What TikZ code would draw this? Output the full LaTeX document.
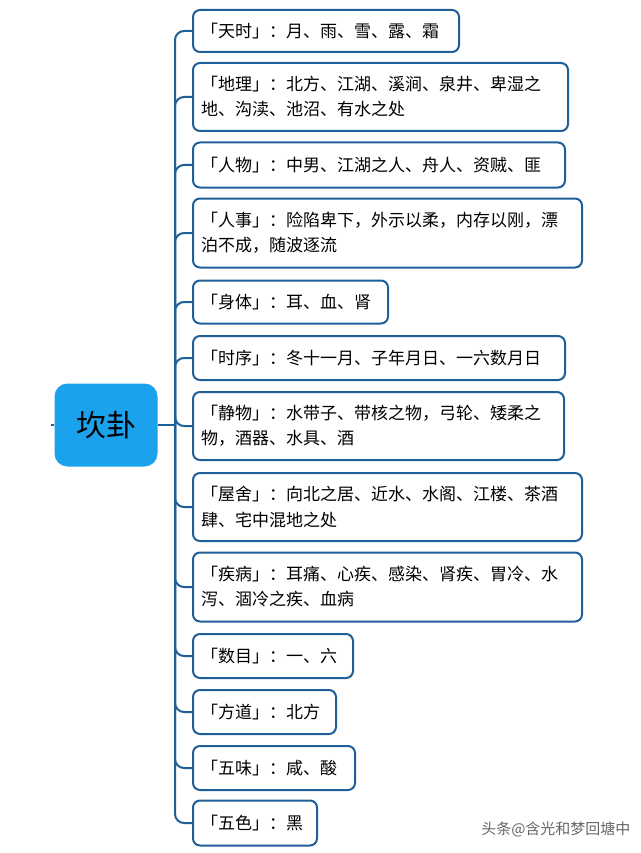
\documentclass[tikz,border=0pt]{standalone}
\usepackage{fontspec}
\newfontfamily\cjk{Noto Sans CJK SC}
\definecolor{edge}{HTML}{1F5F99}
\definecolor{rootfill}{HTML}{1AA2EC}
\tikzset{
  leaf/.style={draw=edge,line width=2pt,rounded corners=7pt,fill=white,anchor=west,
    align=left,inner xsep=8pt,inner ysep=6pt,font=\cjk\fontsize{17}{25}\selectfont},
  link/.style={draw=edge,line width=2pt,rounded corners=9pt}
}
\begin{document}
\begin{tikzpicture}[x=1pt,y=-1pt]
\useasboundingbox (0,0) rectangle (640,853);
\node[fill=rootfill,rounded corners=13pt,minimum width=103pt,minimum height=83pt,
  font=\cjk\fontsize{30}{34}\selectfont](root) at (106,425){坎卦};
\coordinate (hub) at (175,425);
\draw[edge,line width=2pt] (root.west) -- ++(-3,0);
\draw[edge,line width=2pt] (root.east) -- (hub);
\foreach \n/\y/\r/\h/\t in {
  a/31/458/42/{「天时」：月、雨、雪、露、霜},
  b/97/567/68/{「地理」：北方、江湖、溪涧、泉井、卑湿之\\地、沟渎、池沼、有水之处},
  c/165/564/45/{「人物」：中男、江湖之人、舟人、资贼、匪},
  d/233/581/69/{「人事」：险陷卑下，外示以柔，内存以刚，漂\\泊不成，随波逐流},
  e/302/387/43/{「身体」：耳、血、肾},
  f/358/564/44/{「时序」：冬十一月、子年月日、一六数月日},
  g/426/563/68/{「静物」：水带子、带核之物，弓轮、矮柔之\\物，酒器、水具、酒},
  h/507/581/68/{「屋舍」：向北之居、近水、水阁、江楼、茶酒\\肆、宅中混地之处},
  i/587/581/69/{「疾病」：耳痛、心疾、感染、肾疾、胃冷、水\\泻、涸冷之疾、血病},
  j/656/352/44/{「数目」：一、六},
  k/712/335/44/{「方道」：北方},
  l/768/354/44/{「五味」：咸、酸},
  m/823/316/45/{「五色」：黑}}{
  \node[leaf,minimum height=\h pt,text width=\r pt-208pt](\n) at (192,\y){\t};
  \draw[link] (hub) |- (\n.west);
}
\node[anchor=east,text=black!60,font=\cjk\fontsize{15}{17}\selectfont](mark) at (634,829){头条@含光和梦回塘中};
\end{tikzpicture}
\end{document}
